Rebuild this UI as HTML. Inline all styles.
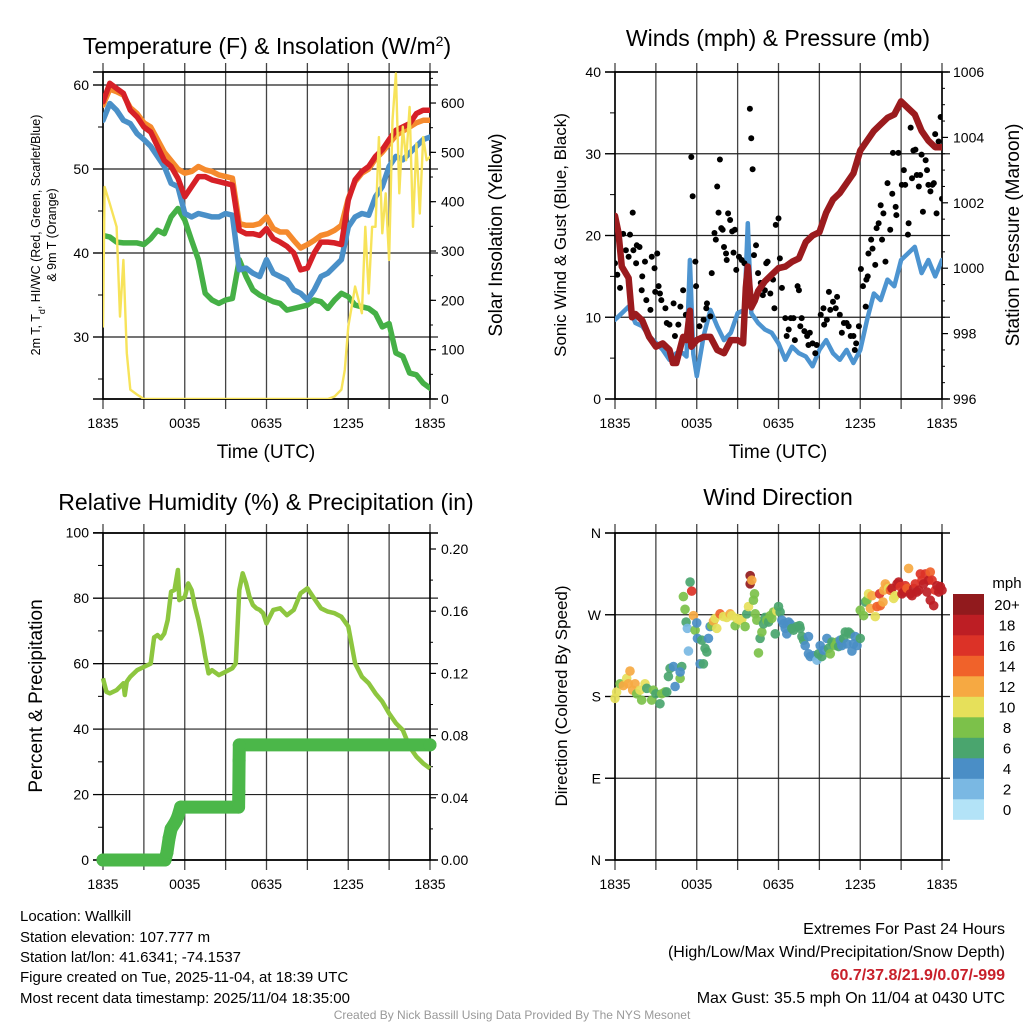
<!DOCTYPE html>
<html><head><meta charset="utf-8"><style>
html,body{margin:0;padding:0;background:#fff;}
svg{display:block;font-family:"Liberation Sans",sans-serif;}
</style></head><body>
<svg id="fig" width="1024" height="1024" viewBox="0 0 1024 1024" xmlns="http://www.w3.org/2000/svg">
<g id="p1"></g>
<g id="p2"></g>
<g id="p3"></g>
<g id="p4"></g>
<g id="cbar"></g>
<text x="267" y="54" font-size="23" text-anchor="middle">Temperature (F) &amp; Insolation (W/m<tspan baseline-shift="super" font-size="14">2</tspan>)</text>
<text x="778" y="46" font-size="23" text-anchor="middle">Winds (mph) &amp; Pressure (mb)</text>
<text x="266" y="510" font-size="23" text-anchor="middle">Relative Humidity (%) &amp; Precipitation (in)</text>
<text x="778" y="505" font-size="23" text-anchor="middle">Wind Direction</text>
<text x="266" y="458" font-size="19" text-anchor="middle">Time (UTC)</text>
<text x="778" y="458" font-size="19" text-anchor="middle">Time (UTC)</text>
<text transform="translate(40,235) rotate(-90)" font-size="12.5" text-anchor="middle">2m T, T<tspan baseline-shift="sub" font-size="9">d</tspan>, HI/WC (Red, Green, Scarlet/Blue)</text>
<text transform="translate(56,235) rotate(-90)" font-size="12.5" text-anchor="middle">&amp; 9m T (Orange)</text>
<text transform="translate(502,235) rotate(-90)" font-size="19" text-anchor="middle">Solar Insolation (Yellow)</text>
<text transform="translate(566,235) rotate(-90)" font-size="17" text-anchor="middle">Sonic Wind &amp; Gust (Blue, Black)</text>
<text transform="translate(1019,235) rotate(-90)" font-size="19" text-anchor="middle">Station Pressure (Maroon)</text>
<text transform="translate(42,696) rotate(-90)" font-size="19" text-anchor="middle">Percent &amp; Precipitation</text>
<text transform="translate(567,696) rotate(-90)" font-size="17" text-anchor="middle">Direction (Colored By Speed)</text>
<g font-size="15">
<text x="20" y="921">Location: Wallkill</text>
<text x="20" y="942">Station elevation: 107.777 m</text>
<text x="20" y="962">Station lat/lon: 41.6341; -74.1537</text>
<text x="20" y="982">Figure created on Tue, 2025-11-04, at 18:39 UTC</text>
<text x="20" y="1003">Most recent data timestamp: 2025/11/04 18:35:00</text>
</g>
<g font-size="16" text-anchor="end">
<text x="1005" y="934">Extremes For Past 24 Hours</text>
<text x="1005" y="957">(High/Low/Max Wind/Precipitation/Snow Depth)</text>
<text x="1005" y="980" fill="#c8202a" font-weight="bold">60.7/37.8/21.9/0.07/-999</text>
<text x="1005" y="1003">Max Gust: 35.5 mph On 11/04 at 0430 UTC</text>
</g>
<text x="512" y="1019" font-size="12" fill="#999" text-anchor="middle">Created By Nick Bassill Using Data Provided By The NYS Mesonet</text>
</svg>
<script>
// ---- data ----
const hourTicks = [0,3,6,9,12,15,18,21,24];
const xLabelHours = [0,6,12,18,24];
const xLabelText = ["1835","0035","0635","1235","1835"];
const tempRed = [58,60.2,59.6,59,57,56.2,55,54.4,52.7,51,50.3,48.9,46.7,47.9,49.1,49.1,48.7,48.5,48.3,48.1,42.7,42.3,42.3,42.1,42.9,41.7,41.3,40.8,40,38,38.2,40,41.3,41.3,41.2,41,46.3,48.7,49.7,50.3,51.5,52.3,53.5,54.6,55,55.4,56.6,57,57];
const temp9m = [57.6,59.5,59.2,58.8,57.3,56.6,55.5,55,53.5,52,51,50,49.5,49.7,50.3,49.9,49.7,49.3,49.1,48.9,43.5,43.3,43.3,43.5,44.3,42.9,42.5,42.5,41.5,40.6,41,41.5,42.1,42.3,42.7,43.3,46.5,48.5,49.5,50,51.2,52,53,54,54.5,55,55.5,55.8,55.8];
const tempBlue = [55.8,57.8,57,55.8,55.4,54.2,53.5,52.7,51.5,50.3,48.3,47.9,44.7,44.3,44.7,44.5,44.3,44.3,44.7,44.5,38,38.2,37.6,37.2,39.2,37.6,37.2,36.8,35.6,35.2,34.4,35.6,37.2,37.6,38.4,39.2,43.1,44.3,44.7,44.5,46.7,47.9,50.3,51.5,51.1,51.9,52.7,53.5,53.8];
const dewGreen = [42.1,41.9,41.3,41.2,41.2,41.2,41,41.7,42.7,42.3,44.3,45.3,43.9,41.5,39.2,35.2,34.4,34,34.4,34.6,39.2,37.2,35.6,35,34.6,34.2,34,33.2,33.4,33.6,33.8,34.4,34.2,33.4,34.4,35.2,34.8,33.8,33.6,33.4,32.8,31.2,31.6,28.1,27.7,25.7,25.5,24.5,23.9];
const solarH = [0,0.12,0.5,1,1.25,1.5,1.75,2,2.5,3,16.5,17,17.5,17.75,18,18.5,19,19.25,19.5,19.75,20,20.25,20.5,20.75,21,21.25,21.5,21.75,22,22.25,22.5,22.75,23,23.25,23.5,23.75,24];
const solarV = [147,430,396,349,167,282,93,19,9,0,0,5,19,59,147,228,174,349,214,349,349,531,336,417,282,565,660,417,552,484,592,349,518,376,531,484,491];
const presH = [0,0.25,0.5,1,1.25,1.5,2,2.5,3,3.5,4,4.25,4.5,5,5.25,5.5,5.6,6,6.5,7,7.5,8,8.5,9,9.4,9.6,9.75,10,10.25,10.5,11,11.5,12,12.5,13,13.5,14,14.5,15,15.5,16,16.5,17,17.5,18,18.5,19,19.5,20,20.5,21,21.5,22,22.5,23,23.5,24];
const presV = [1001.6,1001.1,1000.05,999.7,998.5,998.6,998.4,997.9,997.6,997.7,997.5,997.1,997.1,997.9,997.8,998.7,997.6,997.8,997.9,997.9,997.5,997.4,997.8,997.8,997.7,999.4,1000.05,998.8,999.0,999.3,999.6,999.8,1000.0,1000.05,1000.2,1000.3,1000.8,1001.0,1001.1,1001.7,1002.1,1002.3,1002.6,1002.9,1003.6,1003.9,1004.2,1004.4,1004.6,1004.7,1005.1,1004.9,1004.7,1004.2,1003.9,1003.7,1003.7];
const sonicH = [0,0.5,1,1.5,2,2.5,3,3.5,4,4.5,5,5.25,5.5,5.75,6,6.5,7,7.5,8,8.5,9,9.5,9.75,10,10.5,11,11.5,12,12.5,13,13.5,14,14.5,15,15.5,16,16.5,17,17.5,18,18.5,19,19.5,20,20.5,21,21.5,22,22.5,23,23.5,24];
const sonicV = [9.7,10.5,11.3,9.3,8.9,7.7,6.9,6,4.8,5.6,5.6,5.2,17,5.5,2.8,7.7,10.9,8.9,7.2,8.1,10.5,10.9,21.5,10.5,9.3,8.5,8.1,6.8,4.8,6.4,5.6,5.2,4,6,7.2,5.6,4.8,6,4.4,6,9.7,12.9,12.1,14.6,13.8,17,17.8,18.6,15.4,17,15,17];
const gustH = [0,0.17,0.37,0.6,0.8,1.1,1.0,1.3,1.35,1.6,1.8,1.55,1.96,2.0,2.2,2.3,2.6,2.7,2.9,2.95,3.1,3.2,3.3,3.4,3.7,3.8,4.0,4.3,4.4,4.65,4.8,5.0,5.2,5.45,5.6,5.7,5.9,5.95,6.2,6.5,6.7,6.75,7.0,7.1,7.3,7.4,7.5,7.6,7.7,7.8,7.9,8.0,8.15,8.2,8.3,8.45,8.6,8.7,8.8,8.9,9.1,9.3,9.5,9.7,9.9,10.0,10.1,10.2,10.35,10.5,10.7,10.85,11.0,11.1,11.2,11.4,11.6,11.7,11.8,12.0,12.1,12.25,12.5,12.6,12.75,12.9,13.1,13.2,13.4,13.5,13.6,13.7,13.9,14.1,14.2,14.3,14.5,14.7,14.8,15.1,15.3,15.35,15.55,15.7,15.8,16.0,16.2,16.3,16.5,16.65,16.8,17.0,17.15,17.3,17.5,17.6,17.7,17.9,18.05,18.2,18.4,18.45,18.55,18.6,18.8,18.9,19.1,19.2,19.35,19.5,19.6,19.7,19.85,20.0,20.2,20.35,20.4,20.6,20.65,20.8,21.05,21.2,21.3,21.55,21.5,21.7,21.8,21.9,22.05,22.15,22.3,22.4,22.5,22.6,22.8,22.9,23.0,23.15,23.3,23.4,23.5,23.6,23.75,23.9,24.0];
const gustV = [16.6,15.2,13.6,20.2,18.2,20.1,17.4,22.8,18.2,18.8,18.6,16.6,13.3,15.0,16.8,12.1,10.9,17.4,16.0,13.1,17.8,13.8,12.9,12.1,11.1,9.3,9.1,11.7,7.7,9.1,11.3,13.3,10.3,9.7,29.6,24.8,16.8,13.8,8.9,9.7,11.1,11.7,10.1,15.4,20.3,19.5,26.0,22.8,29.3,20.9,20.7,18.6,17.8,17.0,22.7,21.9,20.5,17.9,20.7,15.8,17.4,17.0,16.6,13.6,35.5,31.9,28.1,17.6,18.8,15.4,14.2,12.7,13.3,16.6,16.8,12.9,14.6,11.1,21.3,22.1,17.2,13.6,9.9,7.7,8.5,9.9,9.9,7.2,13.8,13.3,8.9,9.9,8.3,7.7,6.6,8.1,6.8,5.6,6.6,10.3,11.1,9.1,9.7,13.1,10.9,11.9,11.1,12.5,10.3,8.1,9.3,9.3,8.9,7.7,7.7,6.0,6.8,8.9,15.9,13.8,11.3,14.6,15.0,17.8,19.5,18.4,16.4,20.9,21.5,23.7,19.5,22.7,16.8,26.4,20.7,25.1,30.1,23.5,22.5,30.1,26.2,28.0,26.2,21.5,20.1,33.2,27.0,30.4,30.5,27.4,26.0,27.4,29.9,22.9,29.2,28.0,26.2,25.4,26.2,26.4,32.4,22.7,31.5,34.5,24.5];
const rhH = [0,0.25,0.5,1,1.5,1.6,1.75,2,2.5,3,3.5,3.75,4,4.25,4.5,4.75,5,5.25,5.5,5.6,6,6.25,6.5,6.75,7,7.25,7.5,7.75,8,8.5,9,9.5,9.75,10,10.25,10.5,10.75,11,11.25,11.5,11.75,12,12.5,13,13.5,14,14.5,15,15.5,16,16.5,17,17.5,18,18.5,19,19.5,20,20.5,21,21.5,22,22.5,23,23.5,24];
const rhV = [55.5,51.4,50.9,51.9,54,50.4,54.5,56,58,59,60,68,68.7,67.7,69.2,73.3,82,82.5,88.6,79.4,80.4,84.5,82.5,77.4,73.3,68.2,62.1,57,58,56.5,57.5,58.6,60.1,82.5,87.6,84.5,80.4,77.9,76.9,76.4,75.4,72.3,76.4,76.9,74.8,76.4,81.5,83,79.9,76.9,75.9,75.4,74.3,71.3,60.1,56,54,50.9,48.4,44.8,41.8,39.7,34.6,31.6,29.5,28];
const precipH = [0,4.55,4.7,4.85,5.0,5.35,5.5,5.7,9.95,9.97,9.99,10.0,24];
const precipV = [0,0,0.005,0.014,0.02,0.025,0.028,0.034,0.034,0.044,0.064,0.074,0.074];
const dirH = [0,0.12,0.37,0.61,0.86,1.1,0.98,1.3,1.47,1.59,1.84,1.96,2.2,2.33,2.69,2.82,3.0,3.3,3.43,3.67,3.8,3.92,4.04,4.29,4.41,4.78,4.9,4.78,5.02,5.14,5.22,5.31,5.39,5.51,5.63,5.76,5.88,6.0,6.05,6.25,6.37,6.49,6.61,6.74,6.86,6.98,7.1,7.23,7.35,7.47,7.71,7.96,8.2,8.45,8.57,8.82,8.94,9.18,9.31,9.55,9.67,9.8,9.92,9.92,10.04,10.16,10.24,10.29,10.41,10.53,10.65,10.78,10.9,11.02,11.14,11.27,11.39,11.51,11.63,11.76,11.88,12.0,12.12,12.25,12.37,12.49,12.61,12.74,12.86,12.98,13.1,13.35,13.54,13.59,13.72,13.84,13.96,14.2,14.2,14.33,14.57,14.82,14.94,15.06,15.18,15.31,15.55,15.67,15.8,15.92,16.04,16.16,16.29,16.41,16.53,16.65,16.78,16.9,17.02,17.14,17.27,17.39,17.51,17.63,17.76,18.0,18.0,18.25,18.37,18.49,18.61,18.74,18.86,19.1,19.23,19.42,19.47,19.67,19.72,19.84,19.96,20.08,20.21,20.33,20.45,20.57,20.7,20.82,20.94,21.06,21.19,21.31,21.43,21.55,21.67,21.8,21.92,22.04,22.16,22.29,22.41,22.53,22.65,22.78,22.9,23.02,23.14,23.27,23.14,23.39,23.51,23.63,23.76,23.88,24.0];
const dirDeg = [178,185,194,192,200,208,194,187,194,183,187,176,194,189,176,187,183,172,183,185,185,202,211,213,191,200,213,207,290,276,262,255,230,306,296,269,253,261,244,216,242,216,233,229,244,257,258,263,266,255,271,268,267,271,269,258,266,264,265,257,271,279,313,304,308,286,293,271,264,228,244,251,260,267,264,262,269,266,273,249,274,279,273,264,260,255,249,262,260,255,253,257,258,255,246,242,236,246,227,224,225,220,227,236,224,231,244,233,227,240,238,236,240,235,242,236,244,251,238,251,249,230,238,246,236,244,275,269,284,286,293,277,291,268,279,293,280,284,297,304,301,299,297,299,288,291,304,306,301,293,295,302,299,321,293,291,299,304,295,297,315,308,304,315,295,308,317,308,286,280,297,302,295,301,297];
const dirSpd = [10,10,8,12,10,12,12,12,12,8,10,8,10,6,8,8,6,6,8,8,6,6,6,4,4,8,6,4,8,8,6,2,2,6,16,12,8,4,4,4,6,6,6,6,4,4,8,12,10,10,14,10,10,12,10,8,10,10,10,8,6,10,20,20,12,8,8,8,8,8,6,8,6,6,8,6,8,8,8,6,10,6,6,4,4,4,4,4,4,6,6,6,6,6,6,6,4,4,4,4,4,2,6,4,6,4,4,6,8,6,6,8,8,6,4,4,6,6,4,6,6,4,4,4,4,6,8,8,6,8,10,12,12,10,14,16,14,12,12,12,12,10,14,18,10,10,18,18,16,18,18,16,14,12,18,18,18,16,18,18,16,16,18,16,18,18,14,16,18,18,16,18,18,18,18];
const speedLevels = ["0","2","4","6","8","10","12","14","16","18","20+"];
const speedColors = ["#b3e3f7","#7ab8e3","#4a8ec6","#4aa56e","#7cc14a","#e6e05a","#f6a942","#f0622a","#dc3227","#bd1e24","#911a1d"];

// ---- helpers ----
const NS = "http://www.w3.org/2000/svg";
function mk(parent, tag, attrs){ const e=document.createElementNS(NS,tag); for(const k in attrs) e.setAttribute(k,attrs[k]); parent.appendChild(e); return e; }
function xScale(x0){ return h => x0 + h*(327/24); }
function pathFrom(hs, vs, xf, yf){ return hs.map((h,i)=>(i?"L":"M")+xf(h).toFixed(1)+","+yf(vs[i]).toFixed(1)).join(""); }

function frame(g, x0, y0, x1, y1, leftTicks, leftFmt, yL, leftMinor, rightTicks, rightFmt, yR, rightMinor, gridVals){
  const xf = xScale(x0);
  hourTicks.forEach(h=>{
    const l = mk(g,"line",{x1:xf(h),x2:xf(h),y1:y0-9,y2:y1+10,stroke:"#444","stroke-width":1.3});
    
    
  });
  gridVals.forEach(v=>{
    const l = mk(g,"line",{x1:x0-10,x2:x1+8,y1:yL(v),y2:yL(v),stroke:"#222","stroke-width":1.2});
    
    
  });
  mk(g,"rect",{x:x0,y:y0,width:x1-x0,height:y1-y0,fill:"none",stroke:"#000","stroke-width":1.6});
  mk(g,"line",{x1:x0-10,x2:x1+8,y1:y0,y2:y0,stroke:"#000","stroke-width":1.6});
  mk(g,"line",{x1:x0-10,x2:x1+8,y1:y1,y2:y1,stroke:"#000","stroke-width":1.6});
  leftTicks.forEach(v=>{
    mk(g,"line",{x1:x0-10,x2:x0,y1:yL(v),y2:yL(v),stroke:"#000","stroke-width":1.2});
    if(leftFmt){
      const t = mk(g,"text",{x:x0-14,y:yL(v)+5,"font-size":14,"text-anchor":"end"});
      t.textContent = leftFmt(v);
      
      
    }
  });
  leftMinor.forEach(v=>mk(g,"line",{x1:x0-5,x2:x0,y1:yL(v),y2:yL(v),stroke:"#000","stroke-width":1}));
  rightTicks.forEach(v=>{
    mk(g,"line",{x1:x1,x2:x1+6,y1:yR(v),y2:yR(v),stroke:"#000","stroke-width":1.2});
    const t = mk(g,"text",{x:x1+11,y:yR(v)+5,"font-size":14});
    t.textContent = rightFmt(v);
    
    
  });
  rightMinor.forEach(v=>mk(g,"line",{x1:x1,x2:x1+3,y1:yR(v),y2:yR(v),stroke:"#000","stroke-width":1}));
  xLabelHours.forEach((h,i)=>{
    const t = mk(g,"text",{x:xf(h),y:y1+29,"font-size":14,"text-anchor":"middle"});
    t.textContent = xLabelText[i];
    
    
  });
  return xf;
}
function range(a,b,s){ const r=[]; for(let v=a; v<=b+1e-9; v+=s) r.push(+v.toFixed(4)); return r; }
const halfHours = tempRed.map((_,i)=>i*0.5);

// ---- panel 1 ----
(function(){
  const g = document.getElementById("p1");
  const yT = v => 85 + (60-v)*8.4;
  const yS = v => 399 - v*0.4933;
  const xf = frame(g,103,72,430,399,[60,50,40,30],v=>String(v),yT,[55,45,35,25],range(0,600,100),v=>String(v),yS,range(50,650,50),[60,50,40,30]);
  const clip = mk(g,"clipPath",{id:"c1"}); mk(clip,"rect",{x:103,y:72,width:327,height:327});
  const lg = mk(g,"g",{"clip-path":"url(#c1)",fill:"none","stroke-linejoin":"round","stroke-linecap":"round"});
  const series = [[halfHours,dewGreen,yT,"#45b046",5.5,'dewpoint-line'],[halfHours,tempBlue,yT,"#4a90c8",5.5,'heat-index-line'],[halfHours,temp9m,yT,"#f58a2d",5.5,'temp-9m-line'],[halfHours,tempRed,yT,"#d62027",5.5,'temp-2m-line'],[solarH,solarV,yS,"#f7e35a",2.4,'solar-line']];
  series.forEach(s=>{
    const p = mk(lg,"path",{d:pathFrom(s[0],s[1],xf,s[2]),stroke:s[3],"stroke-width":s[4]});
    
    
  });
})();

// ---- panel 2 ----
(function(){
  const g = document.getElementById("p2");
  const yW = v => 399 - v*8.175;
  const yP = v => 399 - (v-996)*32.7;
  const xf = frame(g,615,72,942,399,[0,10,20,30,40],v=>String(v),yW,[5,15,25,35],range(996,1006,2),v=>String(v),yP,range(996.5,1005.5,0.5).filter(v=>v%2!==0),[10,20,30]);
  const clip = mk(g,"clipPath",{id:"c2"}); mk(clip,"rect",{x:615,y:72,width:327,height:327});
  const lg = mk(g,"g",{"clip-path":"url(#c2)","stroke-linejoin":"round","stroke-linecap":"round"});
  const s = mk(lg,"path",{d:pathFrom(sonicH,sonicV,xf,yW),stroke:"#4d94d0","stroke-width":4.5,fill:"none"});
  
  
  gustH.forEach((h,i)=>{
    const c = mk(lg,"circle",{cx:xf(h),cy:yW(gustV[i]),r:3,fill:"#000"});
    
    
  });
  const p = mk(lg,"path",{d:pathFrom(presH,presV,xf,yP),stroke:"#9b1b1e","stroke-width":6.5,fill:"none"});
  
  
})();

// ---- panel 3 ----
(function(){
  const g = document.getElementById("p3");
  const yR = v => 860 - v*3.273;
  const yPr = v => 860 - v*1555;
  const xf = frame(g,103,533,430,860,range(0,100,20),v=>String(v),yR,range(10,90,20),range(0,0.2,0.04),v=>v.toFixed(2),yPr,range(0.02,0.18,0.04),[80,60,40,20]);
  const r = mk(g,"path",{d:pathFrom(rhH,rhV,xf,yR),stroke:"#8dc63f","stroke-width":4.5,fill:"none","stroke-linejoin":"round"});
  
  
  const p = mk(g,"path",{d:pathFrom(precipH,precipV,xf,yPr),stroke:"#4bb749","stroke-width":13,fill:"none","stroke-linecap":"round","stroke-linejoin":"round"});
  
  
  precipH.forEach((h,i)=>{
    const c = mk(g,"circle",{cx:xf(h),cy:yPr(precipV[i]),r:6.5,fill:"#4bb749"});
    
    
  });
})();

// ---- panel 4 ----
(function(){
  const g = document.getElementById("p4");
  const yD = v => 860 - v*(327/360);
  const dl = {0:"N",90:"E",180:"S",270:"W",360:"N"};
  const xf = frame(g,615,533,942,860,[0,90,180,270,360],v=>dl[v],yD,[],[],null,yD,[],[90,180,270]);
  dirH.forEach((h,i)=>{
    const idx = Math.min(10, Math.round(dirSpd[i]/2));
    const c = mk(g,"circle",{cx:xf(h),cy:yD(dirDeg[i]),r:4.8,fill:speedColors[idx],"fill-opacity":0.92});
    
    
  });
  const cb = document.getElementById("cbar");
  const t = mk(cb,"text",{x:1007,y:588,"font-size":15,"text-anchor":"middle"}); t.textContent="mph";
  
  
  speedLevels.forEach((lab,i)=>{
    const y = 594 + (10-i)*20.5;
    const r = mk(cb,"rect",{x:953,y:y,width:31,height:20.8,fill:speedColors[i]});
    
    
    const tx = mk(cb,"text",{x:1007,y:y+16,"font-size":15,"text-anchor":"middle"}); tx.textContent=lab;
    
    
  });
})();
</script>
</body></html>
